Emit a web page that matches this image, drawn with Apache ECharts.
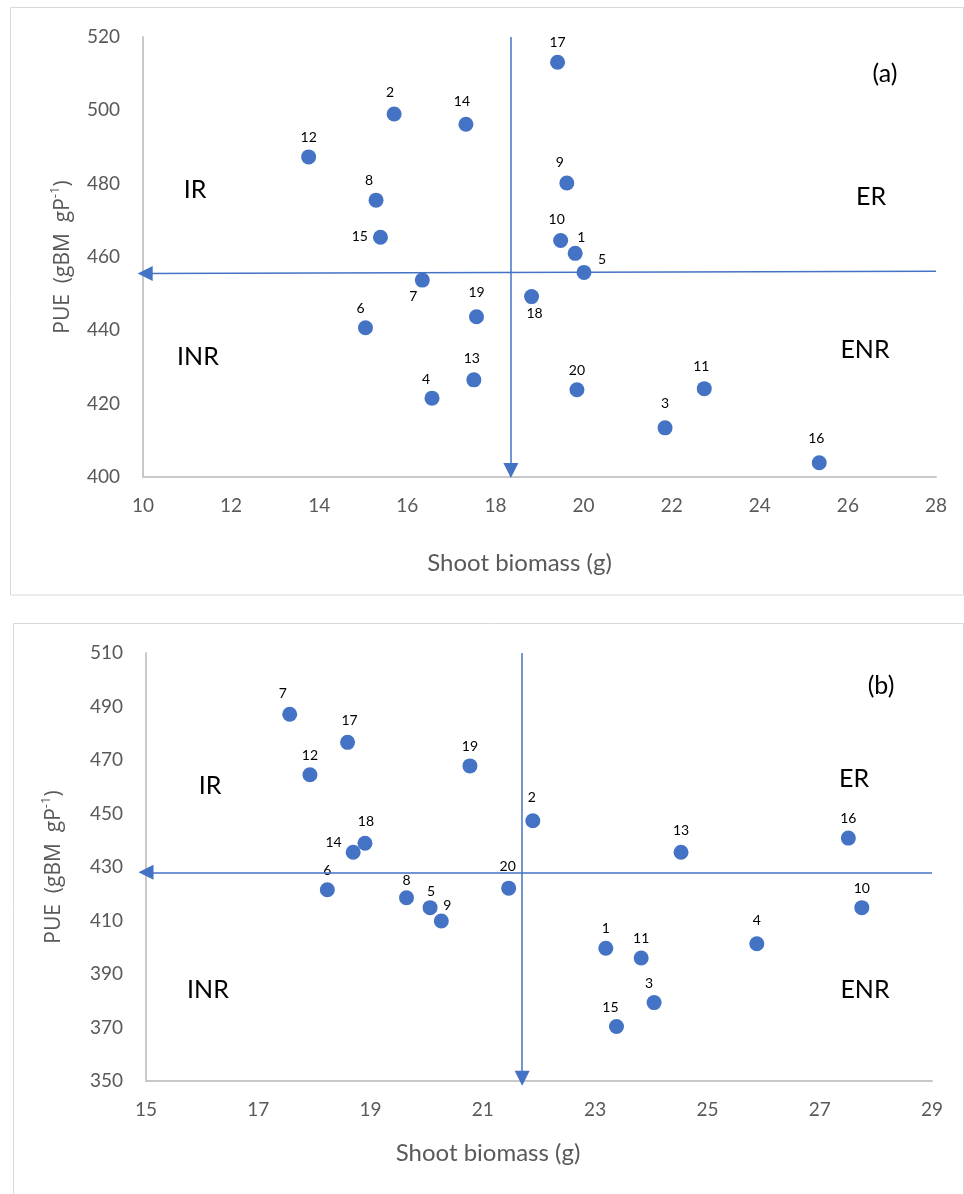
<!DOCTYPE html>
<html>
<head>
<meta charset="utf-8">
<script src="https://cdn.jsdelivr.net/npm/echarts@6/dist/echarts.min.js"></script>
<style>
  html, body { margin: 0; padding: 0; background: #fff; }
  #chart { width: 964px; height: 1194px; }
</style>
</head>
<body>
<div id="chart"></div>
<script>
// ---------- Data: panel (a) ----------
const idsA = [17, 2, 14, 12, 9, 8, 15, 10, 1, 5, 7, 18, 19, 6, 13, 20, 11, 4, 3, 16];
const xA   = [19.41, 15.70, 17.33, 13.76, 19.62, 15.29, 15.39, 19.48, 19.81, 20.01, 16.34, 18.82, 17.57, 15.05, 17.51, 19.85, 22.74, 16.56, 21.85, 25.35];
const yA   = [513.1, 499.0, 496.2, 487.3, 480.2, 475.5, 465.4, 464.5, 461.0, 455.8, 453.7, 449.2, 443.7, 440.7, 426.5, 423.8, 424.1, 421.5, 413.4, 403.9];
const xTicksA = [10, 12, 14, 16, 18, 20, 22, 24, 26, 28];
const yTicksA = [400, 420, 440, 460, 480, 500, 520];
const meanXA = 18.35;           // vertical arrow line
const meanYA_left = 455.5;      // horizontal arrow line (left end)
const meanYA_right = 456.1;     // horizontal arrow line (right end)

// ---------- Data: panel (b) ----------
const idsB = [7, 17, 12, 19, 2, 18, 14, 13, 16, 6, 20, 8, 5, 9, 10, 4, 1, 11, 3, 15];
const xB   = [17.56, 18.59, 17.92, 20.77, 21.89, 18.90, 18.69, 24.53, 27.51, 18.23, 21.46, 19.64, 20.06, 20.26, 27.75, 25.88, 23.19, 23.82, 24.05, 23.38];
const yB   = [487.1, 476.6, 464.5, 467.8, 447.3, 438.9, 435.5, 435.5, 440.8, 421.5, 422.1, 418.5, 414.8, 409.8, 414.8, 401.3, 399.6, 396.0, 379.3, 370.4];
const xTicksB = [15, 17, 19, 21, 23, 25, 27, 29];
const yTicksB = [350, 370, 390, 410, 430, 450, 470, 490, 510];
const meanXB = 21.70;
const meanYB = 428.0;

const regionLabels = ['IR', 'ER', 'INR', 'ENR'];
const panelTags = ['(a)', '(b)'];

// ---------- Styling ----------
const BLUE = '#4472C4';
const GREY_TXT = '#595959';
const AXIS_GREY = '#c8c8c8';
const FONT = 'Lato, "Liberation Sans", sans-serif';
const TITLE_FONT = '"Open Sans", "Noto Sans", sans-serif';

// label placement tweaks (style only)
const tweakA = {
  7:  { position: 'bottom', offset: [-9, -3] },
  18: { position: 'bottom', offset: [3, -3] },
  1:  { position: 'top', offset: [6, 4] },
  5:  { position: 'top', offset: [18, 7] },
  15: { position: 'left', offset: [0, -1] },
  4:  { position: 'top', offset: [-6, 1] },
  6:  { position: 'top', offset: [-5, 0] },
  8:  { position: 'top', offset: [-7, 0] },
  9:  { position: 'top', offset: [-7, -1] },
  2:  { position: 'top', offset: [-4, -2] },
  14: { position: 'top', offset: [-4, -3] },
  10: { position: 'top', offset: [-4, -2] },
  19: { position: 'top', offset: [0, -5] },
  3:  { position: 'top', offset: [0, -5] },
  16: { position: 'top', offset: [-3, -5] },
  11: { position: 'top', offset: [-3, -3] },
  13: { position: 'top', offset: [-2, -2] }
};
const tweakB = {
  7:  { position: 'top', offset: [-7, -1] },
  17: { position: 'top', offset: [2, -2] },
  14: { position: 'left', offset: [1, -10] },
  2:  { position: 'top', offset: [-1, -4] },
  4:  { position: 'top', offset: [0, -4] },
  9:  { position: 'top', offset: [6, 4] },
  5:  { position: 'top', offset: [1, 3] },
  8:  { position: 'top', offset: [0, 2] },
  3:  { position: 'top', offset: [-5, 0] },
  15: { position: 'top', offset: [-6, 1] },
  18: { position: 'top', offset: [1, -2] },
  13: { position: 'top', offset: [0, -2] },
  20: { position: 'top', offset: [-1, -2] }
};

function buildData(ids, xs, ys, tweaks) {
  return ids.map((id, i) => {
    const t = tweaks[id] || { position: 'top', offset: [0, 0] };
    return {
      value: [xs[i], ys[i], id],
      label: { position: t.position, offset: t.offset }
    };
  });
}

function arrowLines(mx, yTop, yTip, xLeftTip, xRight, yLeft, yRight) {
  return [
    [{ coord: [mx, yTop], symbol: 'none' }, { coord: [mx, yTip], symbol: 'triangle' }],
    [{ coord: [xRight, yRight], symbol: 'none' }, { coord: [xLeftTip, yLeft], symbol: 'triangle' }]
  ];
}

const chart = echarts.init(document.getElementById('chart'), null, { renderer: 'canvas' });

function xAxisCfg(idx, ticks, nameGap, padRight) {
  return {
    type: 'value', gridIndex: idx,
    min: ticks[0], max: ticks[ticks.length - 1], interval: ticks[1] - ticks[0],
    name: 'Shoot biomass (g)', nameLocation: 'middle', nameGap: nameGap,
    nameTextStyle: { fontFamily: FONT, fontSize: 24, color: GREY_TXT, padding: [0, padRight, 0, 0] },
    axisLine: { show: true, lineStyle: { color: AXIS_GREY, width: 2 } },
    axisTick: { show: false },
    splitLine: { show: false },
    axisLabel: { fontFamily: FONT, fontSize: 19, color: GREY_TXT, margin: 19 }
  };
}
function yAxisCfg(idx, ticks, nameGap) {
  return {
    type: 'value', gridIndex: idx,
    min: ticks[0], max: ticks[ticks.length - 1], interval: ticks[1] - ticks[0],
    name: '{t|PUE  (gBM  gP}{s|-1}{t|)}', nameLocation: 'middle', nameGap: nameGap, nameRotate: 90,
    nameTextStyle: {
      rich: {
        t: { fontFamily: TITLE_FONT, fontSize: 21, color: GREY_TXT, lineHeight: 28 },
        s: { fontFamily: TITLE_FONT, fontSize: 13, color: GREY_TXT, verticalAlign: 'top', lineHeight: 14 }
      }
    },
    axisLine: { show: true, lineStyle: { color: AXIS_GREY, width: 2 } },
    axisTick: { show: false },
    splitLine: { show: false },
    axisLabel: { fontFamily: FONT, fontSize: 19, color: GREY_TXT, margin: 23 }
  };
}

function scatterSeries(idx, data, lines) {
  return {
    type: 'scatter', xAxisIndex: idx, yAxisIndex: idx,
    symbol: 'circle', symbolSize: 15,
    itemStyle: { color: BLUE, opacity: 1 },
    label: {
      show: true, distance: 5,
      formatter: p => String(p.value[2]),
      fontFamily: FONT, fontSize: 14, color: '#000'
    },
    emphasis: { disabled: true },
    data: data,
    markLine: {
      silent: true, animation: false,
      symbolSize: [15, 15],
      label: { show: false },
      lineStyle: { color: BLUE, width: 1.5, type: 'solid' },
      emphasis: { disabled: true },
      data: lines
    },
    z: 3
  };
}

function txt(x, y, text, size) {
  return {
    type: 'text', x: x, y: y, silent: true,
    style: { text: text, x: 0, y: 0, fontFamily: FONT, fontSize: size, fill: '#000', align: 'center', verticalAlign: 'middle' },
    z: 10
  };
}

const option = {
  animation: false,
  backgroundColor: '#fff',
  grid: [
    { left: 143, top: 37, width: 793, height: 440 },
    { left: 146, top: 653, width: 786, height: 428 }
  ],
  xAxis: [xAxisCfg(0, xTicksA, 74, 40), xAxisCfg(1, xTicksB, 60, 102)],
  yAxis: [yAxisCfg(0, yTicksA, 66), yAxisCfg(1, yTicksB, 78)],
  series: [
    scatterSeries(0, buildData(idsA, xA, yA, tweakA),
      arrowLines(meanXA, yTicksA[yTicksA.length - 1], 401.8, 10.05, xTicksA[xTicksA.length - 1], meanYA_left, meanYA_right)),
    scatterSeries(1, buildData(idsB, xB, yB, tweakB),
      arrowLines(meanXB, yTicksB[yTicksB.length - 1], 351.0, 15.0, xTicksB[xTicksB.length - 1], meanYB, meanYB))
  ],
  graphic: [
    { type: 'rect', silent: true, shape: { x: 10.5, y: 7.5, width: 953, height: 587.5 },
      style: { fill: 'none', stroke: '#d9d9d9', lineWidth: 1 }, z: 0 },
    { type: 'rect', silent: true, shape: { x: 13.5, y: 623.5, width: 950, height: 600 },
      style: { fill: 'none', stroke: '#d9d9d9', lineWidth: 1 }, z: 0 },
    txt(195, 190, regionLabels[0], 25),
    txt(871, 197, regionLabels[1], 25),
    txt(198, 357, regionLabels[2], 25),
    txt(865, 350, regionLabels[3], 25),
    txt(885, 74, panelTags[0], 25),
    txt(210, 786, regionLabels[0], 25),
    txt(854, 779, regionLabels[1], 25),
    txt(208, 990, regionLabels[2], 25),
    txt(865, 990, regionLabels[3], 25),
    txt(881, 686, panelTags[1], 25)
  ]
};
chart.setOption(option);
</script>
</body>
</html>
